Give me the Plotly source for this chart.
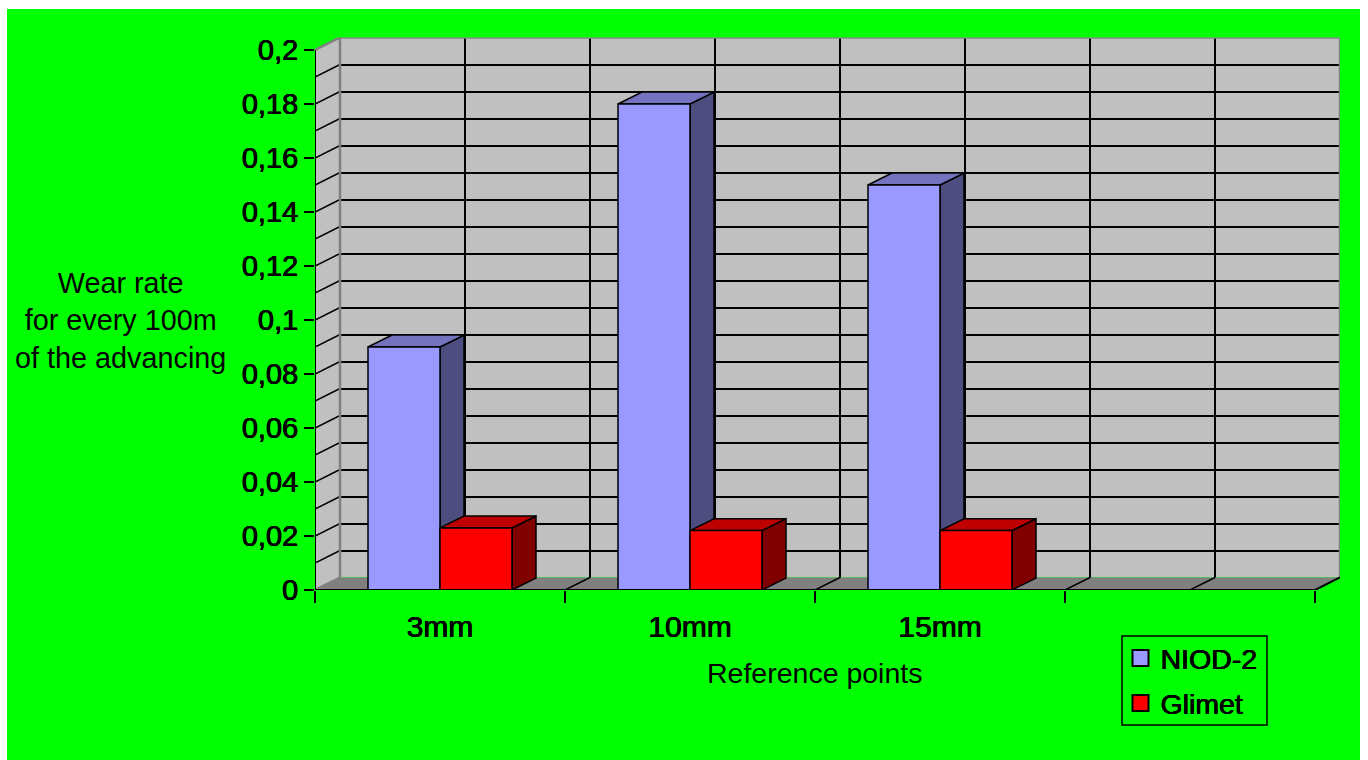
import plotly.graph_objects as go

# Wear rate per reference point
categories = ["3mm", "10mm", "15mm", ""]
niod_2 = [0.09, 0.18, 0.15, None]
glimet = [0.023, 0.022, 0.022, None]
series_names = ["NIOD-2", "Glimet"]
y_tick_values = [0, 0.02, 0.04, 0.06, 0.08, 0.1, 0.12, 0.14, 0.16, 0.18, 0.2]
y_tick_labels = ["0", "0,02", "0,04", "0,06", "0,08", "0,1", "0,12", "0,14", "0,16", "0,18", "0,2"]
y_grid_values = [round(0.01 * i, 2) for i in range(1, 20)]

# Page geometry in pixels
W, H = 1368, 760
FRONT_L, FRONT_R, FRONT_BOTTOM, FRONT_TOP = 315, 1315, 590, 50
DEPTH_X, DEPTH_Y = 25, 12.5


def px(v):
    return v / W


def py(v):
    return 1 - v / H


Y_MAX = 0.2
N_CAT = len(categories)
wall_dx = DEPTH_X * N_CAT / (FRONT_R - FRONT_L)
wall_dy = DEPTH_Y * Y_MAX / (FRONT_BOTTOM - FRONT_TOP)
bar_dx = 0.096
bar_dy = 0.0044
BAR_GAP = 0.424
bar_w = (1 - BAR_GAP) / 2

FONT = "Liberation Sans, Arial, sans-serif"
BOLDISH = "0.45px 0 0 #000, -0.3px 0 0 #000, 0 0.25px 0 #000"
BLACK = "#000000"
EDGE = "#808080"
GREEN = "#00FF00"


def polygon(points, fill, line=BLACK, width=1.5, layer="between"):
    path = "M" + " L".join(f"{x:.5f},{y:.6f}" for x, y in points) + " Z"
    return dict(type="path", path=path, xref="x2", yref="y2", fillcolor=fill,
                line=dict(color=line, width=width), layer=layer)


def segment(x0, y0, x1, y1, color=BLACK, width=1.5):
    return dict(type="line", x0=x0, y0=y0, x1=x1, y1=y1, xref="x2", yref="y2",
                line=dict(color=color, width=width), layer="between")


shapes = [
    # Sheet behind the chart
    dict(type="rect", xref="paper", yref="paper", x0=px(7), x1=px(1360), y0=0, y1=py(9),
         fillcolor=GREEN, line=dict(width=0), layer="below"),
    # Back wall, under its own grid
    dict(type="rect", xref="x", yref="y", x0=0, x1=N_CAT, y0=0, y1=Y_MAX,
         fillcolor="#C0C0C0", line=dict(width=0), layer="below"),
    # Side wall and floor
    polygon([(0, 0), (wall_dx, wall_dy), (wall_dx, Y_MAX + wall_dy), (0, Y_MAX)], "#C0C0C0", width=0),
    polygon([(0, 0), (N_CAT, 0), (N_CAT + wall_dx, wall_dy), (wall_dx, wall_dy)], EDGE, width=0),
]

# Receding grid lines on the side wall and floor
for v in y_grid_values:
    shapes.append(segment(0, v, wall_dx, v + wall_dy))
for i in range(1, 2 * N_CAT):
    shapes.append(segment(i / 2, 0, i / 2 + wall_dx, wall_dy))

# Side and top faces of the bars, back to front
centers = [i + 0.5 for i in range(N_CAT)]
face_colors = [("#4D4D80", "#7373BF"), ("#800000", "#BF0000")]
for center, a, b in zip(centers, niod_2, glimet):
    for series_index, value in enumerate((a, b)):
        if value is None:
            continue
        x0 = center - bar_w + series_index * bar_w
        x1 = x0 + bar_w
        side, top = face_colors[series_index]
        shapes.append(polygon([(x1, 0), (x1 + bar_dx, bar_dy), (x1 + bar_dx, value + bar_dy), (x1, value)], side))
        shapes.append(polygon([(x0, value), (x1, value), (x1 + bar_dx, value + bar_dy), (x0 + bar_dx, value + bar_dy)], top))

# Legend frame
shapes.append(dict(type="rect", xref="paper", yref="paper", x0=px(1122), x1=px(1267),
                   y0=py(725), y1=py(636), line=dict(color=BLACK, width=1.5),
                   fillcolor="rgba(0,0,0,0)", layer="above"))

fig = go.Figure()

# Anchors the back-wall grid subplot
fig.add_trace(go.Scatter(x=[0], y=[0], xaxis="x", yaxis="y", mode="markers",
                         marker=dict(opacity=0), showlegend=False, hoverinfo="skip"))

fig.add_trace(go.Bar(x=centers, y=niod_2, name=series_names[0], xaxis="x2", yaxis="y2",
                     marker=dict(color="#9999FF", line=dict(color=BLACK, width=1.5)), showlegend=False))
fig.add_trace(go.Bar(x=centers, y=glimet, name=series_names[1], xaxis="x2", yaxis="y2",
                     marker=dict(color="#FF0000", line=dict(color=BLACK, width=1.5)), showlegend=False))

# Wall edges and axis lines sit on top, unclipped
fig.add_trace(go.Scatter(
    x=[0, wall_dx, wall_dx, None, wall_dx, N_CAT + wall_dx, N_CAT + wall_dx, None, 0, wall_dx],
    y=[Y_MAX, Y_MAX + wall_dy, wall_dy, None, Y_MAX + wall_dy, Y_MAX + wall_dy, wall_dy, None, 0, wall_dy],
    xaxis="x2", yaxis="y2", mode="lines", line=dict(color=EDGE, width=2.5),
    cliponaxis=False, showlegend=False, hoverinfo="skip"))
fig.add_trace(go.Scatter(
    x=[0, 0, N_CAT, N_CAT + wall_dx], y=[Y_MAX, 0, 0, wall_dy],
    xaxis="x2", yaxis="y2", mode="lines", line=dict(color=BLACK, width=2),
    cliponaxis=False, showlegend=False, hoverinfo="skip"))

# Legend entries, one legend per row so the rows can be spaced freely
for name, color, legend_id in zip(series_names, ["#9999FF", "#FF0000"], ["legend", "legend2"]):
    fig.add_trace(go.Scatter(x=[None], y=[None], xaxis="x2", yaxis="y2", mode="markers", name=name,
                             legend=legend_id,
                             marker=dict(symbol="square", size=16, color=color,
                                         line=dict(color=BLACK, width=2))))

legend_style = dict(xanchor="left", yanchor="middle", bgcolor="rgba(0,0,0,0)", borderwidth=0,
                    font=dict(family=FONT, size=28.5, color=BLACK, shadow=BOLDISH))

fig.update_layout(
    width=W,
    height=H,
    margin=dict(l=0, r=0, t=0, b=0, autoexpand=False),
    paper_bgcolor="#FFFFFF",
    plot_bgcolor="rgba(0,0,0,0)",
    barmode="group",
    bargap=BAR_GAP,
    bargroupgap=0,
    shapes=shapes,
    legend=dict(x=px(1120.5), y=py(658.5), **legend_style),
    legend2=dict(x=px(1120.5), y=py(703.5), **legend_style),
    # Back wall grid
    xaxis=dict(domain=[px(FRONT_L + DEPTH_X), px(FRONT_R + DEPTH_X)], range=[0, N_CAT], anchor="y",
               tickmode="array", tickvals=[i / 2 for i in range(1, 2 * N_CAT)], showticklabels=False,
               ticks="", showgrid=True, gridcolor=BLACK, gridwidth=1.5, zeroline=False, showline=False),
    yaxis=dict(domain=[py(FRONT_BOTTOM - DEPTH_Y), py(FRONT_TOP - DEPTH_Y)], range=[0, Y_MAX], anchor="x",
               tickmode="array", tickvals=y_grid_values, showticklabels=False,
               ticks="", showgrid=True, gridcolor=BLACK, gridwidth=1.5, zeroline=False, showline=False),
    # Front plane: bars, ticks and labels
    xaxis2=dict(domain=[px(FRONT_L), px(FRONT_R + DEPTH_X)], range=[0, N_CAT + wall_dx], anchor="y2",
                tickmode="array", tickvals=centers, ticktext=categories,
                ticks="outside", ticklen=10, tickcolor="rgba(0,0,0,0)",
                minor=dict(tickmode="array", tickvals=list(range(N_CAT + 1)), ticks="outside",
                           ticklen=12, tickwidth=2, tickcolor=BLACK, showgrid=False),
                tickfont=dict(family=FONT, size=30, color=BLACK, shadow=BOLDISH),
                showgrid=False, zeroline=False, showline=False),
    yaxis2=dict(domain=[py(FRONT_BOTTOM), py(FRONT_TOP - DEPTH_Y)], range=[0, Y_MAX + wall_dy], anchor="x2",
                tickmode="array", tickvals=y_tick_values, ticktext=y_tick_labels,
                ticks="outside", ticklen=10, tickwidth=2, tickcolor=BLACK,
                tickfont=dict(family=FONT, size=29, color=BLACK, shadow=BOLDISH),
                showgrid=False, zeroline=False, showline=False),
    annotations=[
        dict(text="Wear rate<br>for every 100m<br>of the advancing", xref="paper", yref="paper",
             x=px(120), y=py(320), xanchor="center", yanchor="middle", showarrow=False, align="center",
             font=dict(family=FONT, size=28.8, color=BLACK)),
        dict(text="Reference points", xref="paper", yref="paper",
             x=px(815), y=py(673), xanchor="center", yanchor="middle", showarrow=False,
             font=dict(family=FONT, size=28.5, color=BLACK)),
    ],
)

fig.write_html("out.html")
